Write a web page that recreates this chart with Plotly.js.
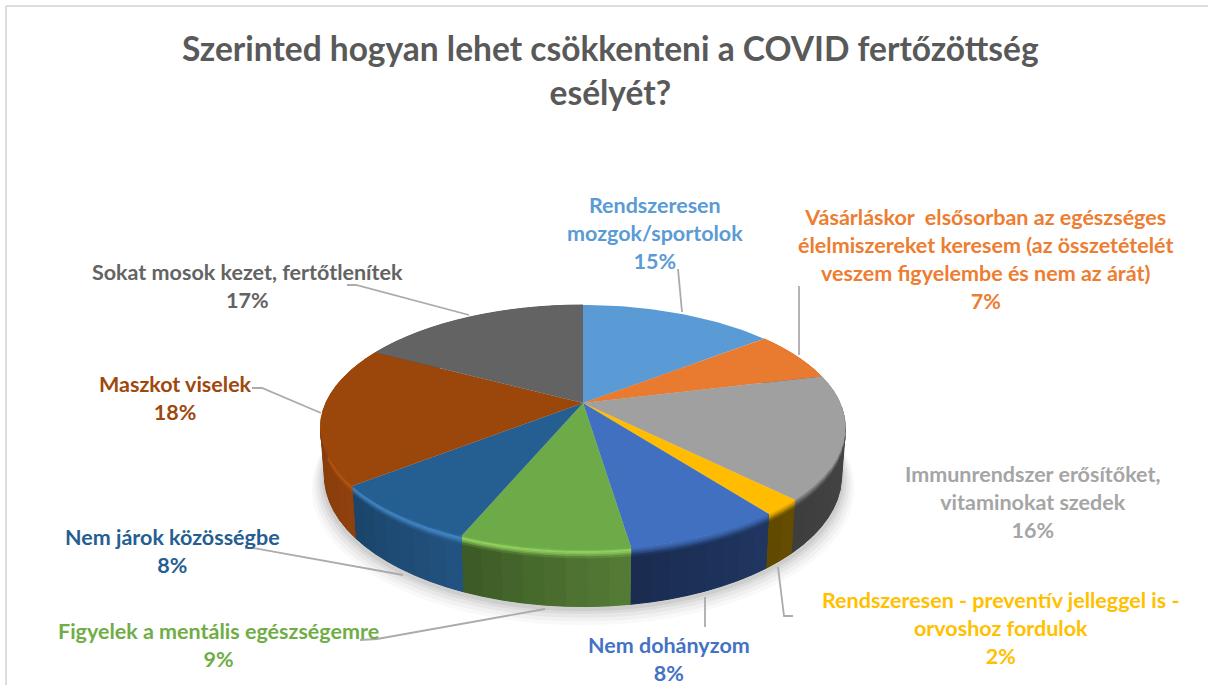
<!DOCTYPE html>
<html>
<head>
<meta charset="utf-8">
<script src="https://cdn.plot.ly/plotly-3.0.1.min.js"></script>
<style>html,body{margin:0;padding:0;background:#fff}#chart{width:1208px;height:685px}</style>
</head>
<body>
<div id="chart"></div>
<script>
// ---- data ----
const categories = [
  "Rendszeresen<br>mozgok/sportolok",
  "Vásárláskor  elsősorban az egészséges<br>élelmiszereket keresem (az összetételét<br>veszem figyelembe és nem az árát)",
  "Immunrendszer erősítőket,<br>vitaminokat szedek",
  "Rendszeresen - preventív jelleggel is -<br>orvoshoz fordulok",
  "Nem dohányzom",
  "Figyelek a mentális egészségemre",
  "Nem járok közösségbe",
  "Maszkot viselek",
  "Sokat mosok kezet, fertőtlenítek"
];
const values = [14.5, 6.7, 16.3, 2.1, 8, 8.7, 8.1, 18.4, 17.2];
const titleText = "Szerinted hogyan lehet csökkenteni a COVID fertőzöttség<br>esélyét?";

// ---- styles ----
const surfaceColors = ["#5B9BD5","#E97B30","#A0A0A0","#FFBC00","#4170C0","#6CAB47","#255E91","#9B470C","#636363"];
const textColors    = ["#5B9BD5","#ED7D31","#A5A5A5","#FFC000","#4472C4","#70AD47","#255E91","#9E480E","#636363"];
const rimColors     = ["#5B9BD5","#C9692A","#7E7E7E","#D9A300","#3A64AC","#96D662","#4289C8","#B9560F","#636363"];
const sideStart     = ["#36608A","#8C4A1D","#4A4A4A","#664D00","#203762","#557D36","#225380","#8E400D","#444444"];
const sideEnd       = ["#36608A","#8C4A1D","#3E3E3E","#5F4800","#1A2B4F","#3B5925","#1B4469","#7F390B","#444444"];

// label placement: centre x, centre y in pixels of the page
const labelX = [655, 985, 1032, 1001, 669, 218, 172, 175, 247];
const labelY = [233, 259, 502, 628, 658.5, 645, 551, 398, 286];
const leaders = [
  [[678,269],[682,312]],
  [[799,286],[799,355]],
  null,
  [[778,567],[784,616],[793,616]],
  [[705,597],[705,627]],
  [[360,640],[377,639],[545,609]],
  [[245,548],[253,548],[403,575]],
  [[252,388],[262,388],[321,413]],
  [[347,285],[356,285],[469,315]]
];

// ---- projection of the tilted disc ----
const CX = 583, CY = 403, R = 257.2, KR = 117.6, P = 0.2, DEPTH = 47;
function proj(deg, f) {
  const a = deg * Math.PI / 180, s = 1 / (1 + P * Math.cos(a)), sh = 1 - 0.015 * f;
  return [CX + R * Math.sin(a) * s * sh, CY - KR * Math.cos(a) * s * sh + f * DEPTH * s];
}
function hex(c) { return [1,3,5].map(i => parseInt(c.substr(i,2),16)); }
function mix(a, b, t) {
  const A = hex(a), B = hex(b);
  return "rgb(" + A.map((v,i) => Math.round(v + (B[i]-v)*t)).join(",") + ")";
}
function toHex(rgb) {
  const m = rgb.match(/\d+/g).map(Number);
  return "#" + m.map(v => v.toString(16).padStart(2,"0")).join("");
}
const total = values.reduce((a,b) => a+b, 0);
const edges = [0];
values.forEach(v => edges.push(edges[edges.length-1] + v / total * 360));

const traces = [];
function poly(pts, color, lw) {
  traces.push({
    type:"scatter", mode:"lines", x:pts.map(p=>p[0]), y:pts.map(p=>p[1]),
    fill:"toself", fillcolor:color, line:{color:lw ? color : "rgba(0,0,0,0)", width:lw||0},
    hoverinfo:"skip", showlegend:false
  });
}

// soft shadow under the disc
[[1.05,10,0.025],[1.04,8,0.03],[1.03,6,0.04],[1.02,4,0.05],[1.01,3,0.06]].forEach(s => {
  const pts = [];
  for (let d = 0; d <= 360; d += 4) {
    const q = proj(d, 1);
    pts.push([CX + (q[0]-CX)*s[0], 430 + (q[1]-430)*s[0] + s[1]]);
  }
  poly(pts, "rgba(0,0,0,"+s[2]+")");
});

// side wall, with a bevel band along the rim
const bands = [[0,.03],[.03,.06],[.06,.09],[.09,.12],[.12,.16],[.16,1]];
function bandColor(i, t, f) {
  const side = toHex(mix(sideStart[i], sideEnd[i], t));
  if (f < .05) return mix(surfaceColors[i], rimColors[i], f/.05);
  if (f < .16) return mix(rimColors[i], side, (f-.05)/.11);
  return side;
}
values.forEach((v,i) => {
  const a0 = edges[i], a1 = edges[i+1];
  if (a1 < 55 || a0 > 305) return;
  // solid base of the slice wall so that no seam shows between the strips
  const base = [];
  const m = Math.ceil((a1-a0)/2);
  for (let k = 0; k <= m; k++) base.push(proj(a0 + (a1-a0)*k/m, 0));
  for (let k = m; k >= 0; k--) base.push(proj(a0 + (a1-a0)*k/m, 1));
  poly(base, mix(sideStart[i], sideEnd[i], .5));
  const n = Math.max(1, Math.ceil((a1-a0)/4));
  for (let k = 0; k < n; k++) {
    const d0 = a0 + (a1-a0)*k/n, d1 = a0 + (a1-a0)*(k+1)/n, t = (k+.5)/n;
    bands.forEach(b => {
      const p = [proj(d0,b[0]), proj(d1,b[0]), proj(d1,b[1]), proj(d0,b[1])];
      poly(p, bandColor(i, t, (b[0]+b[1])/2), 1);
    });
  }
});

// top surface
values.forEach((v,i) => {
  const a0 = edges[i], a1 = edges[i+1], pts = [[CX,CY]];
  const n = Math.max(2, Math.ceil((a1-a0)/1.5));
  for (let k = 0; k <= n; k++) pts.push(proj(a0 + (a1-a0)*k/n, 0));
  pts.push([CX,CY]);
  poly(pts, surfaceColors[i]);
});

// leader lines
leaders.forEach(l => {
  if (!l) return;
  traces.push({type:"scatter", mode:"lines", x:l.map(p=>p[0]), y:l.map(p=>p[1]),
    line:{color:"#ABABAB", width:1.8}, hoverinfo:"skip", showlegend:false});
});

const FONT = "Lato, Carlito, sans-serif";
const annotations = categories.map((c,i) => ({
  xref:"x", yref:"y", x:labelX[i], y:labelY[i], xanchor:"center", yanchor:"middle",
  showarrow:false, align:"center",
  text:"<b>"+c+"<br>"+Math.round(values[i])+"%</b>",
  font:{family:FONT, size:21.5, color:textColors[i]}
}));
annotations.push({
  xref:"x", yref:"y", x:610, y:70, xanchor:"center", yanchor:"middle",
  showarrow:false, align:"center", text:"<b>"+titleText+"</b>",
  font:{family:FONT, size:33.5, color:"#595959"}
});

const layout = {
  width:1208, height:685, margin:{l:0,r:0,t:0,b:0},
  paper_bgcolor:"#fff", plot_bgcolor:"#fff", showlegend:false,
  xaxis:{range:[0,1208], visible:false, fixedrange:true},
  yaxis:{range:[685,0], visible:false, fixedrange:true},
  annotations:annotations,
  shapes:[
    {type:"line", xref:"x", yref:"y", x0:6, x1:1208, y0:6, y1:6, line:{color:"#DDDDDD", width:2}},
    {type:"line", xref:"x", yref:"y", x0:6, x1:6, y0:6, y1:685, line:{color:"#DDDDDD", width:2}}
  ]
};
Plotly.newPlot("chart", traces, layout, {displayModeBar:false, staticPlot:true});
</script>
</body>
</html>
